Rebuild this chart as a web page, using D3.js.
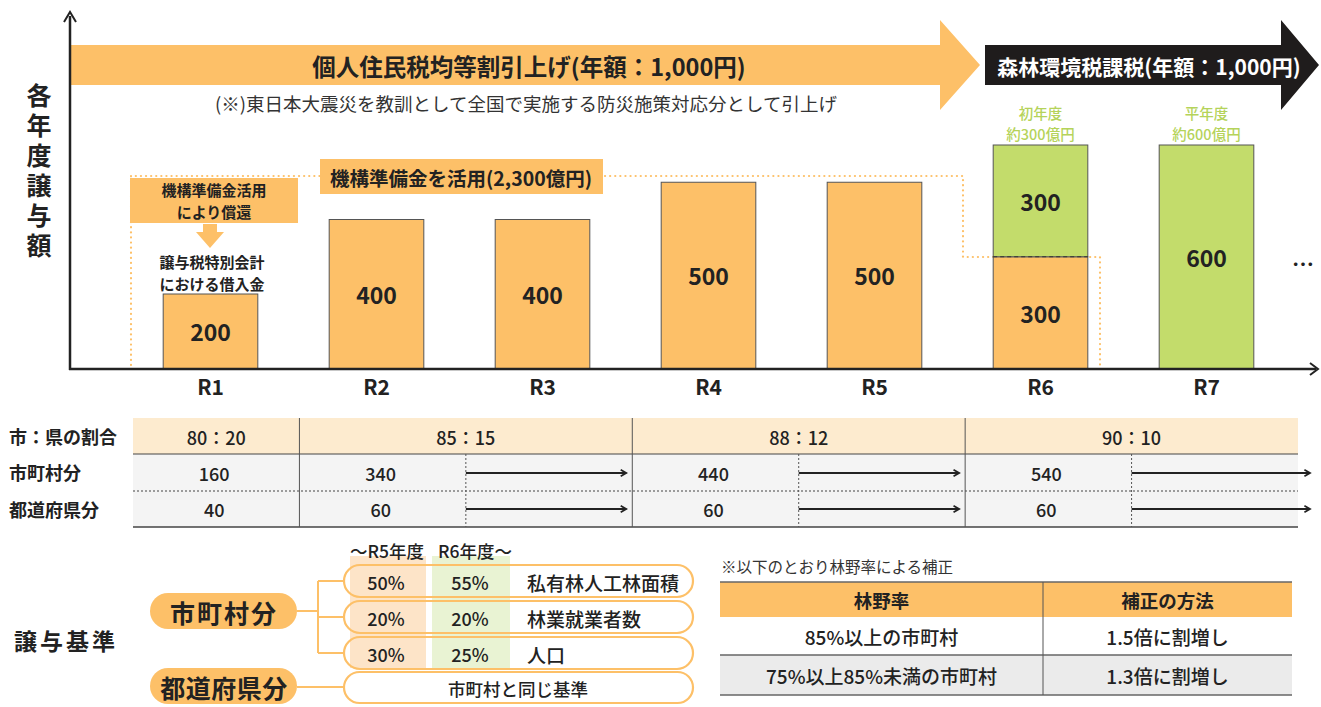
<!DOCTYPE html>
<html><head><meta charset="utf-8">
<script src="https://cdn.jsdelivr.net/npm/d3@7"></script>
<style>body{margin:0;background:#fff}svg{display:block}text{font-family:"Noto Sans CJK JP","Noto Sans",sans-serif}</style>
</head><body>
<script>
// ---- data ----
const categories = ["R1","R2","R3","R4","R5","R6","R7"];
const baseValues = [200,400,400,500,500,300,0];      // 個人住民税均等割 / 機構準備金 (orange)
const forestValues = [0,0,0,0,0,300,600];           // 森林環境税 (green)
const greenNotes = [null,null,null,null,null,["初年度","約300億円"],["平年度","約600億円"]];
const ratioLabels = ["80：20","85：15","88：12","90：10"];
const ratioSpans = [[0,0],[1,2],[3,4],[5,6]];
const municipalShare = [160,340,440,540];
const prefShare = [40,60,60,60];
const criteriaNames = ["私有林人工林面積","林業就業者数","人口"];
const criteriaR5 = ["50%","20%","30%"];
const criteriaR6 = ["55%","20%","25%"];
const corrHeader = ["林野率","補正の方法"];
const corrRows = [["85%以上の市町村","1.5倍に割増し"],["75%以上85%未満の市町村","1.3倍に割増し"]];

const W=1321,H=707;
const ORANGE="#fdc068", GREEN="#c3dc6b", DARK="#222";
const svg=d3.select("body").append("svg").attr("width",W).attr("height",H);

function txt(g,x,y,s,opt={}){
  const t=g.append("text").attr("x",x).attr("y",y).text(s)
    .attr("text-anchor",opt.anchor||"middle").attr("dominant-baseline","central")
    .attr("font-size",opt.size||16).attr("font-weight",opt.weight||700)
    .attr("fill",opt.fill||DARK);
  if(opt.ls) t.attr("letter-spacing",opt.ls);
  return t;
}

// ---- scales ----
const x=d3.scaleBand().domain(categories).range([127.5,1289.5]).paddingInner(0.43).paddingOuter(0.215);
const y=d3.scaleLinear().domain([0,600]).range([368.5,145]);

// top arrows
svg.append("polygon").attr("fill",ORANGE)
  .attr("points","70,45 940,45 940,20 980,65 940,110 940,85 70,85");
svg.append("polygon").attr("fill","#1f1c1c")
  .attr("points","985,45 1281,45 1281,20 1319,65 1281,110 1281,85 985,85");
txt(svg,529,66,"個人住民税均等割引上げ(年額：1,000円)",{size:23.5,weight:700});
txt(svg,1149,66,"森林環境税課税(年額：1,000円)",{size:21,weight:700,fill:"#fff"});
txt(svg,526,103,"(※)東日本大震災を教訓として全国で実施する防災施策対応分として引上げ",{size:18.5,weight:400,fill:"#333"});

// y title (single vertical text)
svg.append("text").attr("x",39).attr("y",83).text("各年度譲与額")
  .style("writing-mode","vertical-rl").attr("letter-spacing",5)
  .attr("font-size",25).attr("font-weight",700).attr("fill",DARK);

// dotted orange path
const dot=svg.append("g").attr("fill","none").attr("stroke",ORANGE).attr("stroke-width",2.2)
  .attr("stroke-dasharray","0.1,5").attr("stroke-linecap","round");
dot.append("path").attr("d","M131,365 L131,176 L963,176 L963,257 L1100,257 L1100,365");

// bars
const bars=svg.append("g");
categories.forEach((c,i)=>{
  if(baseValues[i]>0){
    bars.append("rect").attr("x",x(c)).attr("width",x.bandwidth())
      .attr("y",y(baseValues[i])).attr("height",y(0)-y(baseValues[i]))
      .attr("fill",ORANGE).attr("stroke","#555").attr("stroke-width",1);
    txt(bars,x(c)+x.bandwidth()/2,(y(baseValues[i])+y(0))/2,baseValues[i],{size:23});
  }
  if(forestValues[i]>0){
    const y0=y(baseValues[i]), y1=y(baseValues[i]+forestValues[i]);
    bars.append("rect").attr("x",x(c)).attr("width",x.bandwidth())
      .attr("y",y1).attr("height",y0-y1)
      .attr("fill",GREEN).attr("stroke","#555").attr("stroke-width",1);
    txt(bars,x(c)+x.bandwidth()/2,(y0+y1)/2,forestValues[i],{size:23});
  }
  if(baseValues[i]>0&&forestValues[i]>0){
    bars.append("line").attr("x1",x(c)).attr("x2",x(c)+x.bandwidth())
      .attr("y1",y(baseValues[i])).attr("y2",y(baseValues[i]))
      .attr("stroke","#333").attr("stroke-width",1.2).attr("stroke-dasharray","4,3");
  }
  if(greenNotes[i]){
    const tv=baseValues[i]+forestValues[i];
    txt(bars,x(c)+x.bandwidth()/2,y(tv)-33,greenNotes[i][0],{size:14.5,weight:500,fill:"#b5d35a"});
    txt(bars,x(c)+x.bandwidth()/2,y(tv)-12,greenNotes[i][1],{size:14.5,weight:500,fill:"#b5d35a"});
  }
});
// annotation boxes
svg.append("rect").attr("x",130).attr("y",178).attr("width",168).attr("height",45).attr("fill",ORANGE);
txt(svg,214,189,"機構準備金活用",{size:15});
txt(svg,214,211,"により償還",{size:15});
svg.append("polygon").attr("fill",ORANGE)
  .attr("points","203,224 217,224 217,232 224,232 210,248 196,232 203,232");
txt(svg,212,261,"譲与税特別会計",{size:15});
txt(svg,212,283,"における借入金",{size:15});
svg.append("rect").attr("x",320).attr("y",159).attr("width",283).attr("height",35).attr("fill",ORANGE);
txt(svg,461,177,"機構準備金を活用(2,300億円)",{size:19.5});
txt(svg,1303,262,"…",{size:22});

// axes
const ax=svg.append("g");
ax.append("line").attr("x1",70).attr("x2",70).attr("y1",16).attr("y2",370).attr("stroke",DARK).attr("stroke-width",2.5);
ax.append("path").attr("d","M64,22 L70,12 L76,22").attr("fill","none").attr("stroke",DARK).attr("stroke-width",2);
const xa=svg.append("g").attr("transform","translate(0,369)").call(d3.axisBottom(x).tickSize(0).tickPadding(11));
xa.select(".domain").remove();
xa.selectAll("text").attr("font-size",21).attr("font-weight",700).attr("fill",DARK)
  .attr("font-family","\"Noto Sans CJK JP\",sans-serif");
ax.append("line").attr("x1",69).attr("x2",1316).attr("y1",369).attr("y2",369).attr("stroke",DARK).attr("stroke-width",2.5);
ax.append("path").attr("d","M1310,363 L1318,369 L1310,375").attr("fill","none").attr("stroke",DARK).attr("stroke-width",2);

// ---- share table ----
const tx=d3.scaleBand().domain(categories).range([133,1298]);
const tb=svg.append("g");
const rowY=[418,454,491,527];
tb.append("rect").attr("x",133).attr("y",rowY[0]).attr("width",1165).attr("height",rowY[1]-rowY[0]).attr("fill","#fdebcf");
tb.append("rect").attr("x",133).attr("y",rowY[1]).attr("width",1165).attr("height",rowY[3]-rowY[1]).attr("fill","#f4f4f4");
tb.append("line").attr("x1",133).attr("x2",1298).attr("y1",rowY[1]).attr("y2",rowY[1]).attr("stroke","#444").attr("stroke-width",1);
tb.append("line").attr("x1",133).attr("x2",1298).attr("y1",rowY[2]).attr("y2",rowY[2]).attr("stroke","#444").attr("stroke-width",1).attr("stroke-dasharray","2,2");
tb.append("line").attr("x1",133).attr("x2",1298).attr("y1",rowY[3]).attr("y2",rowY[3]).attr("stroke","#444").attr("stroke-width",1.5);
txt(tb,9,436,"市：県の割合",{anchor:"start",size:18});
txt(tb,9,472,"市町村分",{anchor:"start",size:18});
txt(tb,9,509,"都道府県分",{anchor:"start",size:18});
const defs=svg.append("defs");
defs.append("marker").attr("id","ah").attr("viewBox","0 0 10 10").attr("refX",8).attr("refY",5)
  .attr("markerWidth",4).attr("markerHeight",4).attr("orient","auto")
  .append("path").attr("d","M1,1 L8,5 L1,9").attr("fill","none").attr("stroke",DARK).attr("stroke-width",2.2);
ratioLabels.forEach((lab,k)=>{
  const a=categories[ratioSpans[k][0]], b=categories[ratioSpans[k][1]];
  const x0=tx(a), x1=tx(b)+tx.bandwidth();
  if(k>0) tb.append("line").attr("x1",x0).attr("x2",x0).attr("y1",rowY[0]).attr("y2",rowY[3]).attr("stroke","#555").attr("stroke-width",1);
  txt(tb,(x0+x1)/2,437,lab,{size:18,weight:500});
  const c0=tx(a)+tx.bandwidth()/2;
  txt(tb,c0-2,473,municipalShare[k],{size:18,weight:500});
  txt(tb,c0-2,509,prefShare[k],{size:18,weight:500});
  if(ratioSpans[k][1]>ratioSpans[k][0]){
    const xm=tx(b);
    tb.append("line").attr("x1",xm).attr("x2",xm).attr("y1",rowY[1]).attr("y2",rowY[3]).attr("stroke","#555").attr("stroke-width",1).attr("stroke-dasharray","2,2");
    const xe = k===ratioLabels.length-1 ? 1310 : x1-6;
    [473,509].forEach(yy=>tb.append("line").attr("x1",xm).attr("x2",xe).attr("y1",yy).attr("y2",yy)
      .attr("stroke",DARK).attr("stroke-width",2).attr("marker-end","url(#ah)"));
  }
});

// ---- criteria ----
const cg=svg.append("g");
txt(cg,14,640,"譲与基準",{anchor:"start",size:23,ls:3});
cg.append("rect").attr("x",350).attr("y",556).attr("width",76).attr("height",112).attr("fill","#fde4c8");
cg.append("rect").attr("x",432).attr("y",556).attr("width",78).attr("height",112).attr("fill","#e9f3d3");
txt(cg,387,550,"～R5年度",{size:17.5,weight:500});
txt(cg,475,550,"R6年度～",{size:17.5,weight:500});
const line=cg.append("g").attr("stroke",ORANGE).attr("stroke-width",2).attr("fill","none");
const rowsY=[581,617,653];
line.append("path").attr("d",`M297,611 L318,611 M318,${rowsY[0]} L318,${rowsY[2]} M318,${rowsY[0]} L345,${rowsY[0]} M318,${rowsY[1]} L345,${rowsY[1]} M318,${rowsY[2]} L345,${rowsY[2]} M297,687 L345,687`);
criteriaNames.forEach((n,i)=>{
  cg.append("rect").attr("x",344).attr("y",rowsY[i]-16).attr("width",349).attr("height",32).attr("rx",16)
    .attr("fill","none").attr("stroke",ORANGE).attr("stroke-width",2.2);
  txt(cg,386,rowsY[i]+1,criteriaR5[i],{size:18,weight:500});
  txt(cg,470,rowsY[i]+1,criteriaR6[i],{size:18,weight:500});
  txt(cg,527,rowsY[i]+1,n,{anchor:"start",size:19,weight:500});
});
cg.append("rect").attr("x",344).attr("y",672).attr("width",349).attr("height",31).attr("rx",15.5)
  .attr("fill","#fff").attr("stroke",ORANGE).attr("stroke-width",2.2);
txt(cg,518,688,"市町村と同じ基準",{size:17.5,weight:500});
[["市町村分",611,2],["都道府県分",686,0.5]].forEach(([s,yy,ls])=>{
  cg.append("rect").attr("x",150).attr("y",yy-18).attr("width",147).attr("height",36).attr("rx",18).attr("fill",ORANGE);
  txt(cg,224,yy+1,s,{size:25,ls:ls});
});

// ---- correction table ----
const rt=svg.append("g");
txt(rt,721,566,"※以下のとおり林野率による補正",{anchor:"start",size:15.5,weight:400,fill:"#333"});
const cx=[720,1043,1292];
rt.append("rect").attr("x",720).attr("y",582).attr("width",572).attr("height",35).attr("fill",ORANGE);
rt.append("rect").attr("x",720).attr("y",655).attr("width",572).attr("height",40).attr("fill","#ebebeb");
[582,655,695].forEach(yy=>rt.append("line").attr("x1",720).attr("x2",1292).attr("y1",yy).attr("y2",yy).attr("stroke","#666").attr("stroke-width",1.3));
rt.append("line").attr("x1",1043).attr("x2",1043).attr("y1",582).attr("y2",695).attr("stroke","#555").attr("stroke-width",1);
corrHeader.forEach((h,j)=>txt(rt,(cx[j]+cx[j+1])/2,600,h,{size:18.5}));
corrRows.forEach((r,i)=>r.forEach((s,j)=>txt(rt,(cx[j]+cx[j+1])/2,[636,675][i],s,{size:19,weight:500})));
</script>
</body></html>
